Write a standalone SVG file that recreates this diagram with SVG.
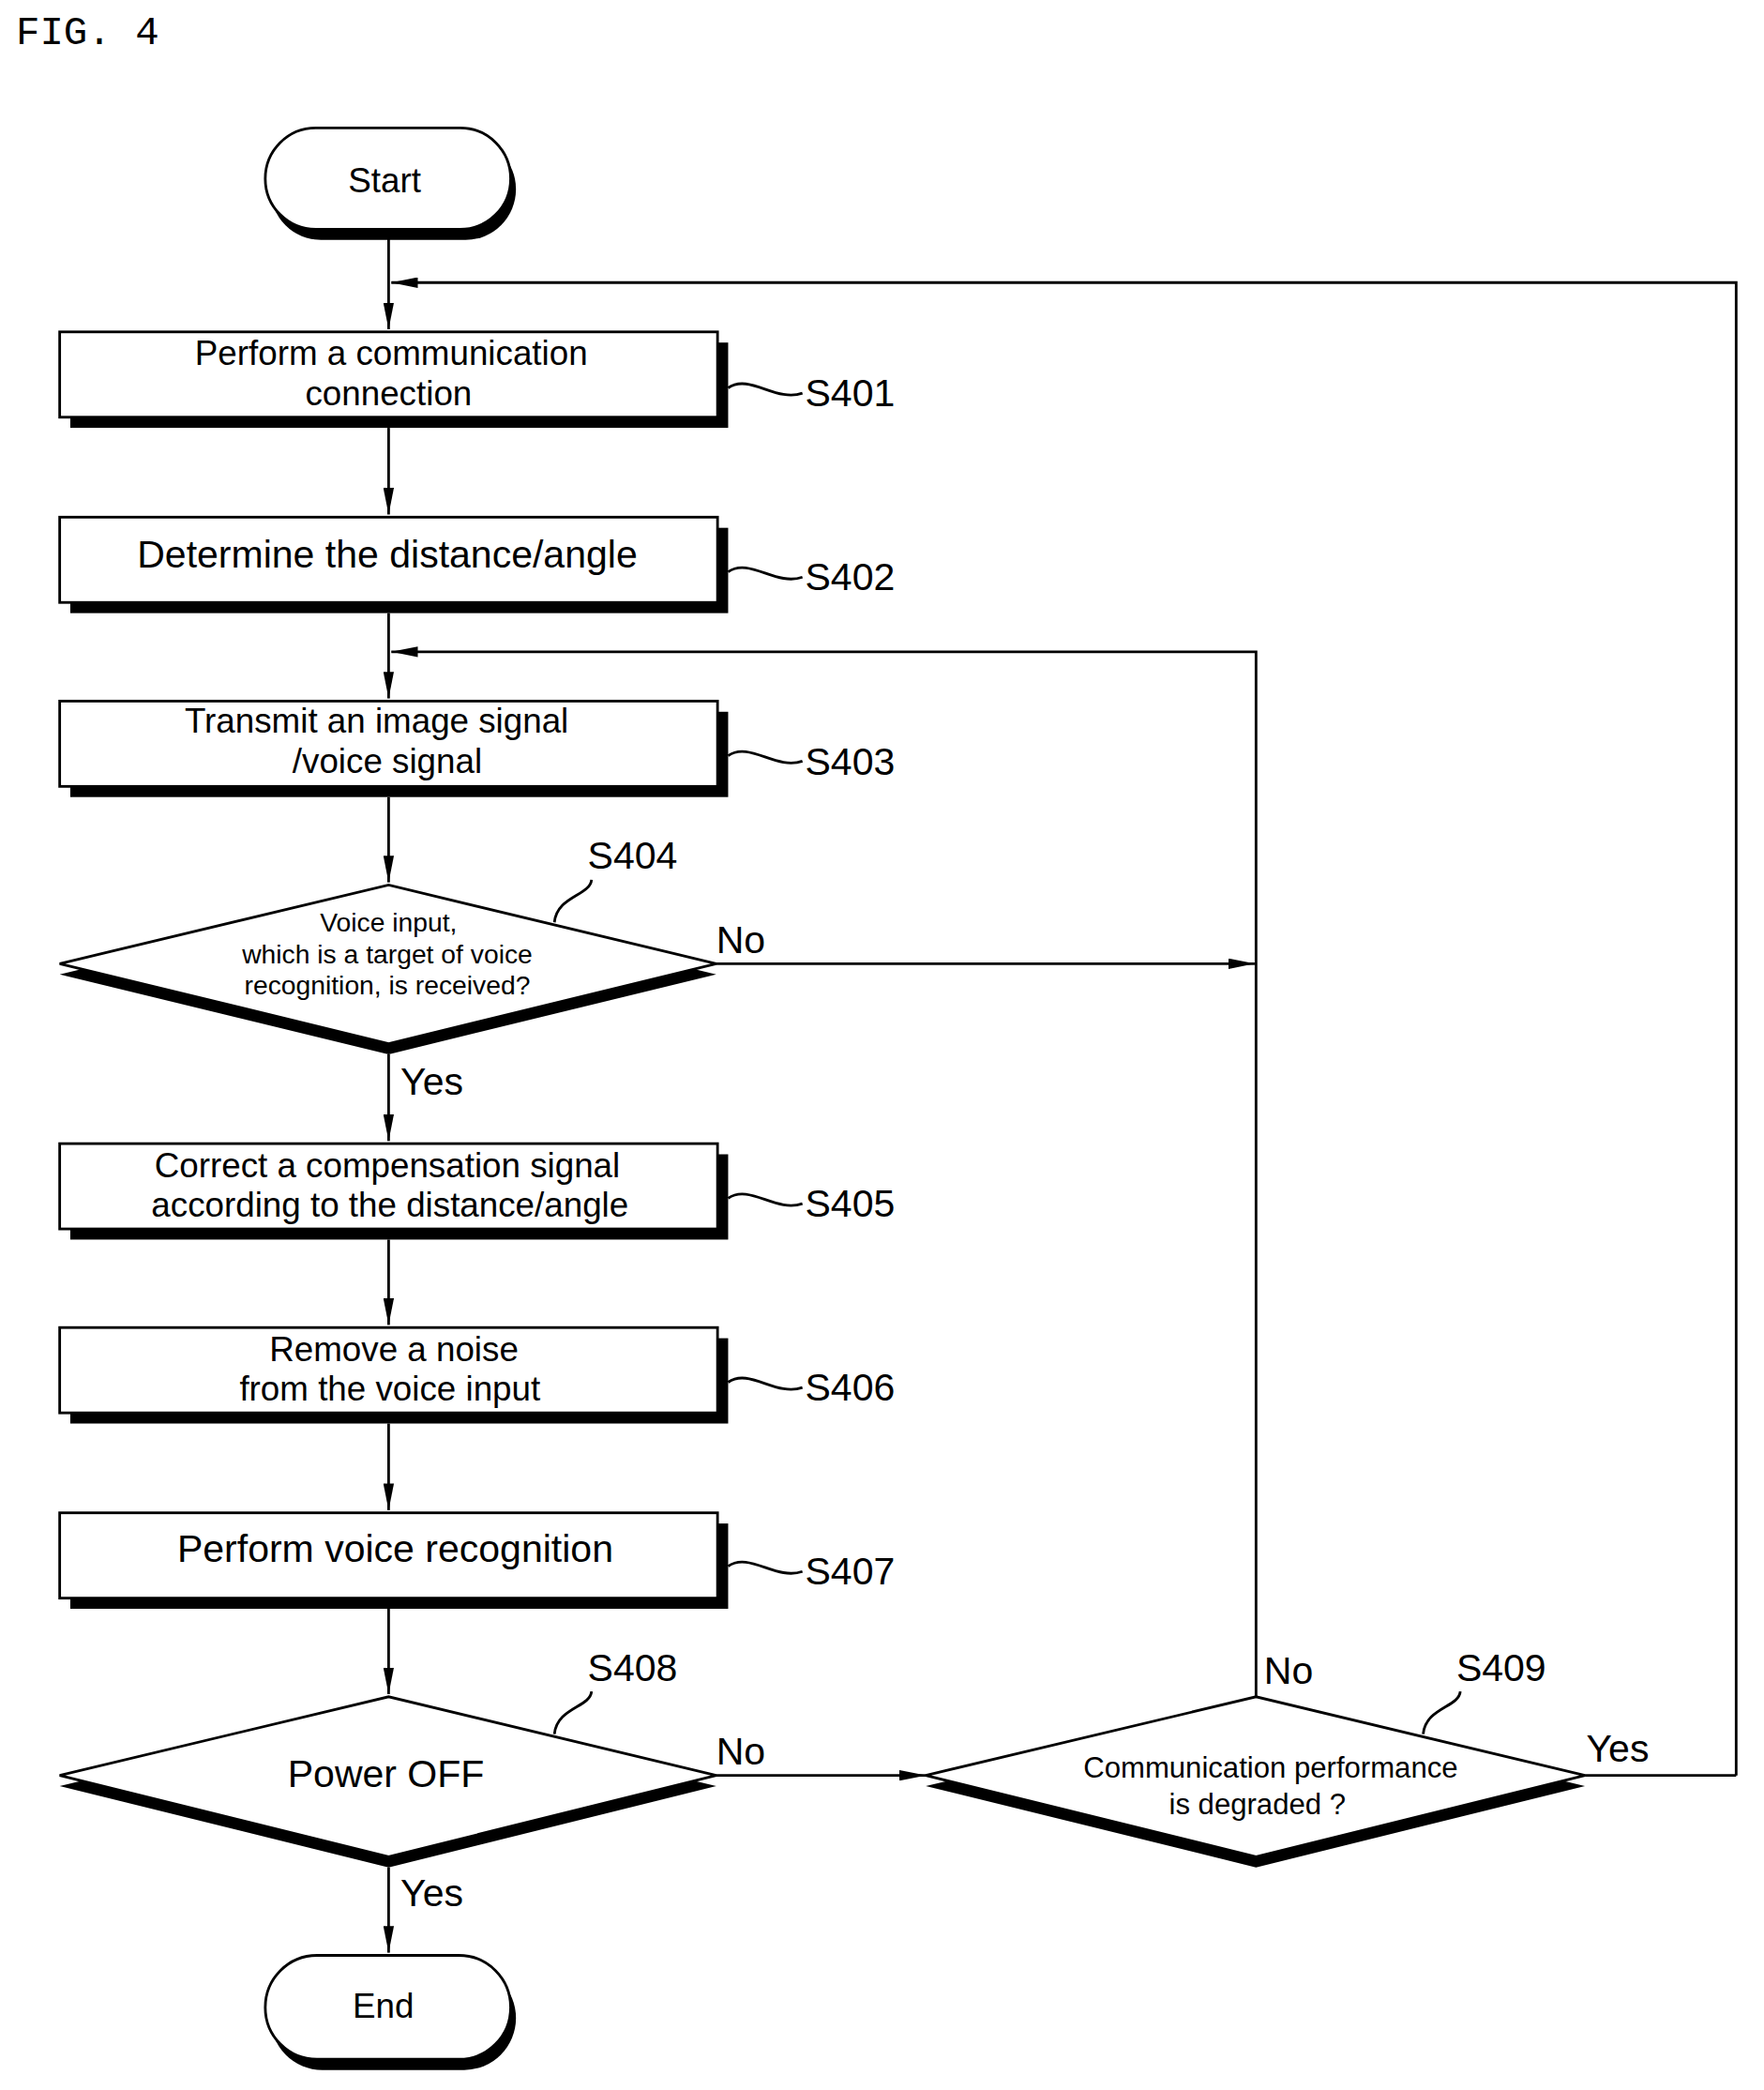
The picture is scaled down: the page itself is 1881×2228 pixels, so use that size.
<svg xmlns="http://www.w3.org/2000/svg" width="1881" height="2228" viewBox="0 0 1881 2228">
<defs>
<marker id="ar" viewBox="0 0 20 8" refX="20" refY="4" markerWidth="20" markerHeight="8" markerUnits="userSpaceOnUse" orient="auto"><path d="M0,0 L20,4 L0,8 z" fill="#000"/></marker>
<style>
.ln{fill:none;stroke:#000;stroke-width:2}
.bx{fill:#fff;stroke:#000;stroke-width:2}
.sh{fill:#000}
text{font-family:"Liberation Sans",Arial,sans-serif;fill:#000}
.t{font-size:29px;text-anchor:middle}
.t2{font-size:26px;text-anchor:middle}
.s{font-size:20px;text-anchor:middle}
.lb{font-size:29px}
</style>
</defs>
<rect width="1881" height="2228" fill="#fff"/>
<g transform="scale(1.4143,1.4209)">
<text x="12" y="33" style="font-family:'Liberation Mono',monospace;font-size:30px">FIG. 4</text>
<g id="connectors">
<path class="ln" d="M293,176 V247" marker-end="url(#ar)"/>
<path class="ln" d="M1309,1332 V212 H295" marker-end="url(#ar)"/>
<path class="ln" d="M293,321 V386" marker-end="url(#ar)"/>
<path class="ln" d="M293,460 V524" marker-end="url(#ar)"/>
<path class="ln" d="M947,1273 V489 H295" marker-end="url(#ar)"/>
<path class="ln" d="M293,598 V662" marker-end="url(#ar)"/>
<path class="ln" d="M540,723 H946" marker-end="url(#ar)"/>
<path class="ln" d="M293,791 V856" marker-end="url(#ar)"/>
<path class="ln" d="M293,930 V994" marker-end="url(#ar)"/>
<path class="ln" d="M293,1068 V1133" marker-end="url(#ar)"/>
<path class="ln" d="M293,1207 V1271" marker-end="url(#ar)"/>
<path class="ln" d="M540,1332 H698" marker-end="url(#ar)"/>
<path class="ln" d="M1195,1332 H1309"/>
<path class="ln" d="M293,1401 V1465" marker-end="url(#ar)"/>
<text class="lb" x="540" y="715">No</text>
<text class="lb" x="302" y="821">Yes</text>
<text class="lb" x="540" y="1324">No</text>
<text class="lb" x="302" y="1430">Yes</text>
<text class="lb" x="953" y="1263">No</text>
<text class="lb" x="1196" y="1322">Yes</text>
</g>
<g id="start"><rect class="sh" x="204" y="104" width="185" height="76" rx="38"/><rect class="bx" x="200" y="96" width="185" height="76" rx="38"/><text class="t" x="290" y="144" style="font-size:26px">Start</text></g>
<g id="S401"><rect class="sh" x="53" y="257" width="496" height="64"/><rect class="bx" x="45" y="249" width="496" height="64"/><text class="t2" x="295" y="274">Perform a communication</text><text class="t2" x="293" y="304">connection</text><path class="ln" d="M549,291 C565,280 585,302 605,295"/><text class="lb" x="607" y="305">S401</text></g>
<g id="S402"><rect class="sh" x="53" y="396" width="496" height="64"/><rect class="bx" x="45" y="388" width="496" height="64"/><text class="t" x="292" y="426">Determine the distance/angle</text><path class="ln" d="M549,429 C565,418 585,440 605,433"/><text class="lb" x="607" y="443">S402</text></g>
<g id="S403"><rect class="sh" x="53" y="534" width="496" height="64"/><rect class="bx" x="45" y="526" width="496" height="64"/><text class="t2" x="284" y="550">Transmit an image signal</text><text class="t2" x="292" y="580">/voice signal</text><path class="ln" d="M549,567 C565,556 585,578 605,571"/><text class="lb" x="607" y="581">S403</text></g>
<g id="S404"><polygon class="sh" points="45,731 293,672 540,731 293,791"/><polygon class="bx" points="45,723 293,664 540,723 293,783"/><text class="s" x="293" y="699">Voice input,</text><text class="s" x="292" y="723">which is a target of voice</text><text class="s" x="292" y="746">recognition, is received?</text><path class="ln" d="M418,692 C420,672 445,672 446,660"/><text class="lb" x="443" y="652">S404</text></g>
<g id="S405"><rect class="sh" x="53" y="866" width="496" height="64"/><rect class="bx" x="45" y="858" width="496" height="64"/><text class="t2" x="292" y="883">Correct a compensation signal</text><text class="t2" x="294" y="913">according to the distance/angle</text><path class="ln" d="M549,899 C565,888 585,910 605,903"/><text class="lb" x="607" y="913">S405</text></g>
<g id="S406"><rect class="sh" x="53" y="1004" width="496" height="64"/><rect class="bx" x="45" y="996" width="496" height="64"/><text class="t2" x="297" y="1021">Remove a noise</text><text class="t2" x="294" y="1051">from the voice input</text><path class="ln" d="M549,1037 C565,1026 585,1048 605,1041"/><text class="lb" x="607" y="1051">S406</text></g>
<g id="S407"><rect class="sh" x="53" y="1143" width="496" height="64"/><rect class="bx" x="45" y="1135" width="496" height="64"/><text class="t" x="298" y="1172">Perform voice recognition</text><path class="ln" d="M549,1175 C565,1164 585,1186 605,1179"/><text class="lb" x="607" y="1189">S407</text></g>
<g id="S408"><polygon class="sh" points="45,1340 293,1281 540,1340 293,1401"/><polygon class="bx" points="45,1332 293,1273 540,1332 293,1393"/><text class="t" x="291" y="1341">Power OFF</text><path class="ln" d="M418,1301 C420,1281 445,1281 446,1269"/><text class="lb" x="443" y="1261">S408</text></g>
<g id="S409"><polygon class="sh" points="698,1340 947,1281 1195,1340 947,1401"/><polygon class="bx" points="698,1332 947,1273 1195,1332 947,1393"/><text class="s" x="958" y="1334" style="font-size:22px">Communication performance</text><text class="s" x="948" y="1361" style="font-size:22px">is degraded ?</text><path class="ln" d="M1073,1301 C1075,1281 1100,1281 1101,1269"/><text class="lb" x="1098" y="1261">S409</text></g>
<g id="end"><rect class="sh" x="204" y="1475" width="185" height="78" rx="39"/><rect class="bx" x="200" y="1467" width="185" height="78" rx="39"/><text class="t" x="289" y="1514" style="font-size:26px">End</text></g>
</g>
</svg>
